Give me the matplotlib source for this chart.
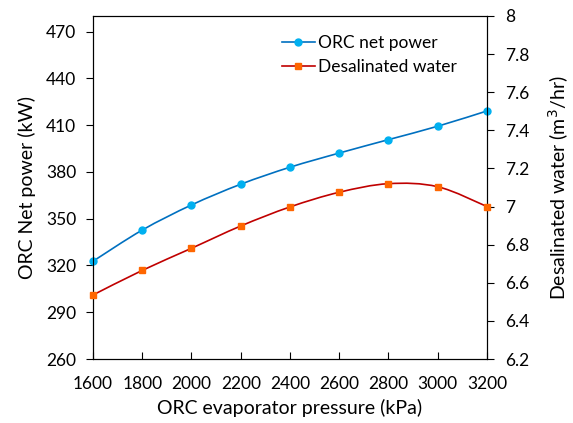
import numpy as np
import matplotlib.pyplot as plt
from matplotlib.path import Path
from matplotlib.patches import PathPatch

plt.rcParams['font.family'] = ['Lato', 'DejaVu Sans']

pressure = [1600, 1800, 2000, 2200, 2400, 2600, 2800, 3000, 3200]
net_power = [322.7, 342.7, 358.8, 372.1, 383.0, 392.1, 400.7, 409.3, 419.1]
water = [6.536, 6.665, 6.781, 6.898, 6.998, 7.075, 7.12, 7.104, 7.0]


def smooth_path(x, y):
    """Excel 风格平滑曲线（三次贝塞尔）"""
    x = np.asarray(x, float)
    y = np.asarray(y, float)
    n = len(x)
    verts = [(x[0], y[0])]
    codes = [Path.MOVETO]
    for i in range(n - 1):
        p0 = i - 1 if i > 0 else i
        p3 = i + 2 if i + 2 < n else i + 1
        c1 = (x[i] + (x[i + 1] - x[p0]) / 6, y[i] + (y[i + 1] - y[p0]) / 6)
        c2 = (x[i + 1] - (x[p3] - x[i]) / 6, y[i + 1] - (y[p3] - y[i]) / 6)
        verts += [c1, c2, (x[i + 1], y[i + 1])]
        codes += [Path.CURVE4] * 3
    return Path(verts, codes)


fig = plt.figure(figsize=(5.73, 4.23), dpi=100)
ax = fig.add_axes([0.1623, 0.1513, 0.6876, 0.8109])
ax2 = ax.twinx()

ax.add_patch(PathPatch(smooth_path(pressure, net_power), fill=False,
                       edgecolor='#0070C0', linewidth=1.2, zorder=2))
ax.plot(pressure, net_power, linestyle='none', marker='o', markersize=5,
        color='#00B0F0', zorder=3, clip_on=False)
ax2.add_patch(PathPatch(smooth_path(pressure, water), fill=False,
                        edgecolor='#C00000', linewidth=1.2, zorder=2))
ax2.plot(pressure, water, linestyle='none', marker='s', markersize=5,
         color='#FF6600', zorder=3, clip_on=False)

ax.set_xlim(1600, 3200)
ax.set_ylim(260, 480)
ax.set_xticks(pressure)
ax.set_yticks(np.arange(260, 471, 30))
ax2.set_ylim(6.2, 8.0)
rticks = np.round(np.arange(6.2, 8.01, 0.2), 1)
ax2.set_yticks(rticks)
ax2.set_yticklabels([f'{v:g}' for v in rticks])

ax.tick_params(axis='x', direction='in', length=5, labelsize=12.5, pad=12)
ax.tick_params(axis='y', direction='out', length=5, labelsize=12.5, pad=7)
ax2.tick_params(axis='y', direction='out', length=5, labelsize=12.5, pad=8)

ax.set_xlabel('ORC evaporator pressure (kPa)', fontsize=14, labelpad=5)
ax.set_ylabel('ORC Net power (kW)', fontsize=14, labelpad=7)
ax2.set_ylabel('Desalinated water (m$^3$/hr)', fontsize=14, labelpad=12)

# 图例
h1 = ax.plot([], [], '-o', color='#0070C0', mfc='#00B0F0', mec='#00B0F0',
             markersize=5, linewidth=1.2)[0]
h2 = ax.plot([], [], '-s', color='#C00000', mfc='#FF6600', mec='#FF6600',
             markersize=5, linewidth=1.2)[0]
ax.legend([h1, h2], ['ORC net power', 'Desalinated water'], loc='upper left',
          bbox_to_anchor=(0.44, 0.99), frameon=False, fontsize=12.5,
          handlelength=1.9, handletextpad=0.15, labelspacing=0.45)

fig.savefig('out.png', dpi=100)
